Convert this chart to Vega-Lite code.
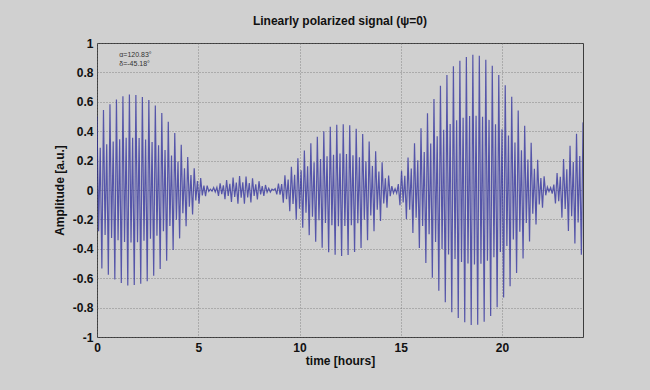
{
"$schema": "https://vega.github.io/schema/vega-lite/v6.json",
"autosize": {"type": "none"},
"width": 486,
"height": 294,
"padding": {"left": 97, "top": 43, "right": 67, "bottom": 53},
"background": "#d0d0d0",
"title": {"text": "Linearly polarized signal (ψ=0)", "font": "Liberation Sans", "fontSize": 12, "fontWeight": "bold", "color": "#111111", "offset": 9},
"config": {
  "view": {"stroke": "#3c3c3c", "strokeWidth": 1, "fill": "#d0d0d0"},
  "axis": {"labelFont": "Liberation Sans", "labelFontSize": 12, "labelFontWeight": "bold", "labelColor": "#111111", "titleFont": "Liberation Sans", "titleFontSize": 12, "titleFontWeight": "bold", "titleColor": "#111111", "grid": true, "gridColor": "#666666", "gridDash": [1, 2], "gridOpacity": 0.7, "ticks": false, "domain": false, "labelOverlap": false, "labelBound": false, "labelFlush": false}
},
"layer": [
{
"data": {"values": [
{"t":0,"y":0.5},{"t":0.08,"y":-0.281},{"t":0.16,"y":0.287},{"t":0.24,"y":-0.534},{"t":0.32,"y":0.545},{"t":0.4,"y":-0.306},{"t":0.48,"y":0.312},{"t":0.56,"y":-0.576},{"t":0.64,"y":0.584},{"t":0.72,"y":-0.326},{"t":0.8,"y":0.33},{"t":0.88,"y":-0.608},{"t":0.96,"y":0.616},{"t":1.04,"y":-0.342},{"t":1.12,"y":0.345},{"t":1.2,"y":-0.632},{"t":1.28,"y":0.637},{"t":1.36,"y":-0.353},{"t":1.44,"y":0.355},{"t":1.52,"y":-0.65},{"t":1.6,"y":0.65},{"t":1.68,"y":-0.357},{"t":1.76,"y":0.356},{"t":1.84,"y":-0.647},{"t":1.92,"y":0.646},
{"t":2,"y":-0.355},{"t":2.08,"y":0.353},{"t":2.16,"y":-0.637},{"t":2.24,"y":0.633},{"t":2.32,"y":-0.346},{"t":2.4,"y":0.344},{"t":2.48,"y":-0.621},{"t":2.56,"y":0.613},{"t":2.64,"y":-0.332},{"t":2.72,"y":0.327},{"t":2.8,"y":-0.584},{"t":2.88,"y":0.574},{"t":2.96,"y":-0.311},{"t":3.04,"y":0.304},{"t":3.12,"y":-0.538},{"t":3.2,"y":0.524},{"t":3.28,"y":-0.281},{"t":3.36,"y":0.272},{"t":3.44,"y":-0.481},{"t":3.52,"y":0.465},{"t":3.6,"y":-0.245},{"t":3.68,"y":0.235},{"t":3.76,"y":-0.408},{"t":3.84,"y":0.388},{"t":3.92,"y":-0.203},
{"t":4,"y":0.193},{"t":4.08,"y":-0.329},{"t":4.16,"y":0.308},{"t":4.24,"y":-0.158},{"t":4.32,"y":0.147},{"t":4.4,"y":-0.246},{"t":4.48,"y":0.225},{"t":4.56,"y":-0.113},{"t":4.64,"y":0.102},{"t":4.72,"y":-0.167},{"t":4.8,"y":0.148},{"t":4.88,"y":-0.071},{"t":4.96,"y":0.061},{"t":5.04,"y":-0.094},{"t":5.12,"y":0.081},{"t":5.2,"y":-0.037},{"t":5.28,"y":0.03},{"t":5.36,"y":-0.042},{"t":5.44,"y":0.03},{"t":5.52,"y":-0.009},{"t":5.6,"y":0.006},{"t":5.68,"y":-0.008},{"t":5.76,"y":0.016},{"t":5.84,"y":-0.013},{"t":5.92,"y":0.018},
{"t":6,"y":-0.04},{"t":6.08,"y":0.046},{"t":6.16,"y":-0.028},{"t":6.24,"y":0.031},{"t":6.32,"y":-0.062},{"t":6.4,"y":0.068},{"t":6.48,"y":-0.041},{"t":6.56,"y":0.042},{"t":6.64,"y":-0.081},{"t":6.72,"y":0.084},{"t":6.8,"y":-0.048},{"t":6.88,"y":0.05},{"t":6.96,"y":-0.093},{"t":7.04,"y":0.095},{"t":7.12,"y":-0.052},{"t":7.2,"y":0.052},{"t":7.28,"y":-0.093},{"t":7.36,"y":0.092},{"t":7.44,"y":-0.05},{"t":7.52,"y":0.048},{"t":7.6,"y":-0.084},{"t":7.68,"y":0.079},{"t":7.76,"y":-0.041},{"t":7.84,"y":0.038},{"t":7.92,"y":-0.065},
{"t":8,"y":0.06},{"t":8.08,"y":-0.03},{"t":8.16,"y":0.026},{"t":8.24,"y":-0.041},{"t":8.32,"y":0.034},{"t":8.4,"y":-0.015},{"t":8.48,"y":0.012},{"t":8.56,"y":-0.014},{"t":8.64,"y":0.006},{"t":8.72,"y":-0.002},{"t":8.8,"y":0.009},{"t":8.88,"y":-0.03},{"t":8.96,"y":0.043},{"t":9.04,"y":-0.031},{"t":9.12,"y":0.04},{"t":9.2,"y":-0.086},{"t":9.28,"y":0.1},{"t":9.36,"y":-0.063},{"t":9.44,"y":0.071},{"t":9.52,"y":-0.144},{"t":9.6,"y":0.158},{"t":9.68,"y":-0.095},{"t":9.76,"y":0.103},{"t":9.84,"y":-0.201},{"t":9.92,"y":0.216},
{"t":10,"y":-0.127},{"t":10.08,"y":0.134},{"t":10.16,"y":-0.256},{"t":10.24,"y":0.268},{"t":10.32,"y":-0.155},{"t":10.4,"y":0.162},{"t":10.48,"y":-0.307},{"t":10.56,"y":0.318},{"t":10.64,"y":-0.182},{"t":10.72,"y":0.188},{"t":10.8,"y":-0.352},{"t":10.88,"y":0.363},{"t":10.96,"y":-0.206},{"t":11.04,"y":0.211},{"t":11.12,"y":-0.392},{"t":11.2,"y":0.4},{"t":11.28,"y":-0.224},{"t":11.36,"y":0.229},{"t":11.44,"y":-0.424},{"t":11.52,"y":0.431},{"t":11.6,"y":-0.239},{"t":11.68,"y":0.24},{"t":11.76,"y":-0.44},{"t":11.84,"y":0.444},{"t":11.92,"y":-0.246},
{"t":12,"y":0.248},{"t":12.08,"y":-0.449},{"t":12.16,"y":0.447},{"t":12.24,"y":-0.245},{"t":12.32,"y":0.244},{"t":12.4,"y":-0.442},{"t":12.48,"y":0.44},{"t":12.56,"y":-0.239},{"t":12.64,"y":0.236},{"t":12.72,"y":-0.422},{"t":12.8,"y":0.416},{"t":12.88,"y":-0.226},{"t":12.96,"y":0.222},{"t":13.04,"y":-0.394},{"t":13.12,"y":0.381},{"t":13.2,"y":-0.202},{"t":13.28,"y":0.195},{"t":13.36,"y":-0.342},{"t":13.44,"y":0.33},{"t":13.52,"y":-0.174},{"t":13.6,"y":0.164},{"t":13.68,"y":-0.28},{"t":13.76,"y":0.263},{"t":13.84,"y":-0.135},{"t":13.92,"y":0.125},
{"t":14,"y":-0.21},{"t":14.08,"y":0.188},{"t":14.16,"y":-0.091},{"t":14.24,"y":0.079},{"t":14.32,"y":-0.12},{"t":14.4,"y":0.098},{"t":14.48,"y":-0.042},{"t":14.56,"y":0.027},{"t":14.64,"y":-0.021},{"t":14.72,"y":0.008},{"t":14.8,"y":-0.022},{"t":14.88,"y":0.04},{"t":14.96,"y":-0.104},{"t":15.04,"y":0.131},{"t":15.12,"y":-0.085},{"t":15.2,"y":0.097},{"t":15.28,"y":-0.198},{"t":15.36,"y":0.221},{"t":15.44,"y":-0.134},{"t":15.52,"y":0.146},{"t":15.6,"y":-0.292},{"t":15.68,"y":0.318},{"t":15.76,"y":-0.189},{"t":15.84,"y":0.203},{"t":15.92,"y":-0.394},
{"t":16,"y":0.42},{"t":16.08,"y":-0.245},{"t":16.16,"y":0.259},{"t":16.24,"y":-0.497},{"t":16.32,"y":0.522},{"t":16.4,"y":-0.301},{"t":16.48,"y":0.316},{"t":16.56,"y":-0.597},{"t":16.64,"y":0.619},{"t":16.72,"y":-0.353},{"t":16.8,"y":0.365},{"t":16.88,"y":-0.686},{"t":16.96,"y":0.709},{"t":17.04,"y":-0.401},{"t":17.12,"y":0.41},{"t":17.2,"y":-0.764},{"t":17.28,"y":0.782},{"t":17.36,"y":-0.439},{"t":17.44,"y":0.449},{"t":17.52,"y":-0.832},{"t":17.6,"y":0.842},{"t":17.68,"y":-0.469},{"t":17.76,"y":0.474},{"t":17.84,"y":-0.871},{"t":17.92,"y":0.88},
{"t":18,"y":-0.49},{"t":18.08,"y":0.492},{"t":18.16,"y":-0.9},{"t":18.24,"y":0.904},{"t":18.32,"y":-0.5},{"t":18.4,"y":0.503},{"t":18.48,"y":-0.919},{"t":18.56,"y":0.92},{"t":18.64,"y":-0.506},{"t":18.72,"y":0.505},{"t":18.8,"y":-0.916},{"t":18.88,"y":0.914},{"t":18.96,"y":-0.501},{"t":19.04,"y":0.498},{"t":19.12,"y":-0.896},{"t":19.2,"y":0.886},{"t":19.28,"y":-0.482},{"t":19.36,"y":0.477},{"t":19.44,"y":-0.857},{"t":19.52,"y":0.846},{"t":19.6,"y":-0.457},{"t":19.68,"y":0.448},{"t":19.76,"y":-0.798},{"t":19.84,"y":0.782},{"t":19.92,"y":-0.421},
{"t":20,"y":0.413},{"t":20.08,"y":-0.731},{"t":20.16,"y":0.712},{"t":20.24,"y":-0.381},{"t":20.32,"y":0.37},{"t":20.4,"y":-0.654},{"t":20.48,"y":0.635},{"t":20.56,"y":-0.337},{"t":20.64,"y":0.323},{"t":20.72,"y":-0.564},{"t":20.8,"y":0.54},{"t":20.88,"y":-0.284},{"t":20.96,"y":0.271},{"t":21.04,"y":-0.466},{"t":21.12,"y":0.437},{"t":21.2,"y":-0.224},{"t":21.28,"y":0.208},{"t":21.36,"y":-0.35},{"t":21.44,"y":0.322},{"t":21.52,"y":-0.161},{"t":21.6,"y":0.145},{"t":21.68,"y":-0.235},{"t":21.76,"y":0.206},{"t":21.84,"y":-0.098},{"t":21.92,"y":0.082},
{"t":22,"y":-0.12},{"t":22.08,"y":0.093},{"t":22.16,"y":-0.036},{"t":22.24,"y":0.021},{"t":22.32,"y":-0.01},{"t":22.4,"y":0.017},{"t":22.48,"y":-0.024},{"t":22.56,"y":0.037},{"t":22.64,"y":-0.092},{"t":22.72,"y":0.116},{"t":22.8,"y":-0.077},{"t":22.88,"y":0.09},{"t":22.96,"y":-0.188},{"t":23.04,"y":0.211},{"t":23.12,"y":-0.129},{"t":23.2,"y":0.141},{"t":23.28,"y":-0.278},{"t":23.36,"y":0.301},{"t":23.44,"y":-0.178},{"t":23.52,"y":0.19},{"t":23.6,"y":-0.364},{"t":23.68,"y":0.383},{"t":23.76,"y":-0.221},{"t":23.84,"y":0.232},{"t":23.92,"y":-0.441},
{"t":24,"y":0.46}
]},
"mark": {"type": "line", "color": "#2c2c9c", "strokeWidth": 1.2, "opacity": 0.75, "clip": true},
"encoding": {
  "x": {"field": "t", "type": "quantitative", "scale": {"domain": [0, 24], "nice": false}, "axis": {"title": "time [hours]", "values": [0, 5, 10, 15, 20], "tickCount": 5, "labelPadding": 5, "titlePadding": 2, "labelOverlap": false}},
  "y": {"field": "y", "type": "quantitative", "scale": {"domain": [-1, 1], "nice": false}, "axis": {"title": "Amplitude [a.u.]", "values": [-1, -0.8, -0.6, -0.4, -0.2, 0, 0.2, 0.4, 0.6, 0.8, 1], "tickCount": 11, "labelExpr": "(datum.value < 0 ? '-' : '') + format(abs(datum.value), '~g')", "labelPadding": 4, "titlePadding": 6, "labelOverlap": false}}
}
},
{
"data": {"values": [{"t": 1.1, "y": 0.92, "label": "α=120.83°"}, {"t": 1.1, "y": 0.857, "label": "δ=-45.18°"}]},
"mark": {"type": "text", "align": "left", "baseline": "middle", "font": "Liberation Sans", "fontSize": 7, "color": "#333333"},
"encoding": {
  "x": {"field": "t", "type": "quantitative"},
  "y": {"field": "y", "type": "quantitative"},
  "text": {"field": "label"}
}
}
]
}
